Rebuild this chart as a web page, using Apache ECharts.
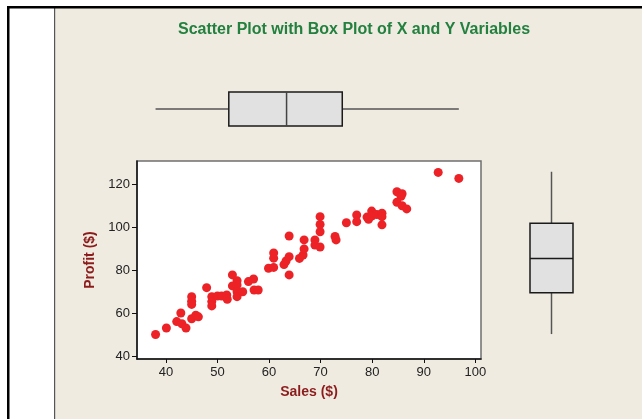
<!DOCTYPE html>
<html>
<head>
<meta charset="utf-8">
<script src="https://cdn.jsdelivr.net/npm/echarts@6/dist/echarts.min.js"></script>
<style>html,body{margin:0;padding:0;background:#fff}#c{width:642px;height:419px}</style>
</head>
<body>
<div id="c"></div>
<script>
const sales = [38.0, 40.1, 42.1, 42.9, 43.1, 43.9, 45.0, 45.0, 45.0, 45.0, 45.8, 46.3, 47.9, 48.9, 48.9, 48.9,
  50.0, 50.8, 51.8, 51.9, 52.9, 52.9, 53.8, 53.8, 53.8, 53.8, 54.9, 56.0, 57.0, 57.1, 57.9,
  59.9, 60.9, 60.9, 60.9, 62.9, 63.3, 63.9, 63.9, 63.9, 65.9, 66.6, 66.8, 66.8, 68.9, 68.9,
  69.9, 69.9, 69.9, 69.9, 72.8, 73.0, 75.0, 77.0, 77.0, 79.0, 79.3, 79.9, 79.9, 80.9, 81.9, 81.9, 81.9,
  84.8, 85.8, 85.6, 84.8, 85.8, 86.7, 92.8, 96.8];
const profit = [50.0, 53.0, 56.0, 60.0, 55.0, 53.0, 67.6, 65.5, 64.0, 57.3, 59.0, 58.2, 71.8, 67.6, 65.3, 63.3,
  67.9, 67.9, 68.4, 66.4, 77.7, 72.6, 75.0, 73.0, 69.9, 67.6, 69.9, 74.6, 75.8, 70.7, 70.7,
  80.8, 81.2, 85.5, 87.9, 82.5, 84.2, 86.2, 95.8, 77.7, 85.4, 87.0, 89.8, 94.0, 94.0, 91.6,
  90.7, 97.8, 101.2, 104.8, 95.6, 94.0, 102.0, 105.6, 102.5, 104.6, 103.6, 107.4, 105.1, 105.8, 106.4, 104.8, 101.0,
  116.4, 115.5, 114.3, 111.5, 109.9, 108.4, 125.4, 122.6];
// box plot summaries [min, Q1, median, Q3, max]
const salesBox = [38.0, 52.2, 63.4, 74.2, 96.8];
const profitBox = [50.2, 69.4, 85.4, 101.7, 125.7];
const xTicks = [40, 50, 60, 70, 80, 90, 100];
const yTicks = [40, 60, 80, 100, 120];
const titleText = 'Scatter Plot with Box Plot of X and Y Variables';
const xName = 'Sales ($)';
const yName = 'Profit ($)';

const X_MIN = 34.4, X_MAX = 101.1, Y_MIN = 38.6, Y_MAX = 130.7;
const labelFont = {fontFamily: 'Liberation Sans', fontSize: 13, color: '#222'};
const nameFont = {fontFamily: 'Liberation Sans', fontSize: 14, fontWeight: 'bold', color: '#8c1c1c'};
const whisk = {stroke: '#555', lineWidth: 1.5};
const boxStyle = {fill: '#e1e1e1', stroke: '#1a1a1a', lineWidth: 1.5};

const chart = echarts.init(document.getElementById('c'), null, {renderer: 'canvas'});
chart.setOption({
  backgroundColor: '#ffffff',
  animation: false,
  title: {
    text: titleText, left: 349, top: 17, textAlign: 'center',
    textStyle: {fontFamily: 'Liberation Sans', fontSize: 16, fontWeight: 'bold', color: '#23803f'}
  },
  graphic: [
    {type: 'rect', z: -100, silent: true, shape: {x: 55, y: 8, width: 587, height: 411}, style: {fill: '#efebe1'}},
    {type: 'rect', z: -90, silent: true, shape: {x: 54, y: 8, width: 1.2, height: 411}, style: {fill: '#555'}},
    {type: 'rect', z: -90, silent: true, shape: {x: 7, y: 6, width: 635, height: 2.5}, style: {fill: '#000'}},
    {type: 'rect', z: -90, silent: true, shape: {x: 7, y: 6, width: 2.5, height: 413}, style: {fill: '#000'}}
  ],
  grid: [
    {left: 137, top: 161, width: 344, height: 198, show: true, backgroundColor: '#ffffff', borderColor: '#6f6f6f', borderWidth: 1.5},
    {left: 137, top: 92, width: 344, height: 34},
    {left: 530, top: 161, width: 43, height: 198}
  ],
  xAxis: [
    {gridIndex: 0, type: 'value', min: X_MIN, max: X_MAX,
     axisLine: {lineStyle: {color: '#111', width: 1.5}},
     axisTick: {show: true, length: 4, customValues: xTicks, lineStyle: {color: '#111'}},
     axisLabel: {customValues: xTicks, margin: 7, ...labelFont},
     splitLine: {show: false},
     name: xName, nameLocation: 'middle', nameGap: 26, nameTextStyle: nameFont},
    {gridIndex: 1, type: 'value', min: X_MIN, max: X_MAX, show: false},
    {gridIndex: 2, type: 'value', min: 0, max: 1, show: false}
  ],
  yAxis: [
    {gridIndex: 0, type: 'value', min: Y_MIN, max: Y_MAX,
     axisLine: {show: true, lineStyle: {color: '#111', width: 1.5}},
     axisTick: {show: true, length: 5, customValues: yTicks, lineStyle: {color: '#111'}},
     axisLabel: {customValues: yTicks, margin: 7, ...labelFont},
     splitLine: {show: false},
     name: yName, nameLocation: 'middle', nameGap: 37, nameTextStyle: nameFont},
    {gridIndex: 1, type: 'value', min: 0, max: 1, show: false},
    {gridIndex: 2, type: 'value', min: Y_MIN, max: Y_MAX, show: false}
  ],
  series: [
    {type: 'scatter', xAxisIndex: 0, yAxisIndex: 0, symbolSize: 9,
     itemStyle: {color: '#ec2226', opacity: 1},
     data: sales.map((s, i) => [s, profit[i]])},
    {type: 'custom', xAxisIndex: 1, yAxisIndex: 1, data: [salesBox],
     renderItem: function (params, api) {
       const v = [0, 1, 2, 3, 4].map(k => api.value(k));
       const x = v.map(d => api.coord([d, 0.5])[0]);
       const yTop = api.coord([v[0], 1])[1], yBot = api.coord([v[0], 0])[1];
       const yMid = (yTop + yBot) / 2;
       return {type: 'group', children: [
         {type: 'line', shape: {x1: x[0], y1: yMid, x2: x[1], y2: yMid}, style: whisk},
         {type: 'line', shape: {x1: x[3], y1: yMid, x2: x[4], y2: yMid}, style: whisk},
         {type: 'rect', shape: {x: x[1], y: yTop, width: x[3] - x[1], height: yBot - yTop}, style: boxStyle},
         {type: 'line', shape: {x1: x[2], y1: yTop, x2: x[2], y2: yBot}, style: {stroke: '#444', lineWidth: 1.5}}
       ]};
     }},
    {type: 'custom', xAxisIndex: 2, yAxisIndex: 2, data: [profitBox],
     renderItem: function (params, api) {
       const v = [0, 1, 2, 3, 4].map(k => api.value(k));
       const y = v.map(d => api.coord([0.5, d])[1]);
       const xL = api.coord([0, v[0]])[0], xR = api.coord([1, v[0]])[0];
       const xMid = (xL + xR) / 2;
       return {type: 'group', children: [
         {type: 'line', shape: {x1: xMid, y1: y[0], x2: xMid, y2: y[1]}, style: whisk},
         {type: 'line', shape: {x1: xMid, y1: y[3], x2: xMid, y2: y[4]}, style: whisk},
         {type: 'rect', shape: {x: xL, y: y[3], width: xR - xL, height: y[1] - y[3]}, style: boxStyle},
         {type: 'line', shape: {x1: xL, y1: y[2], x2: xR, y2: y[2]}, style: {stroke: '#1a1a1a', lineWidth: 1.5}}
       ]};
     }}
  ]
});
</script>
</body>
</html>
